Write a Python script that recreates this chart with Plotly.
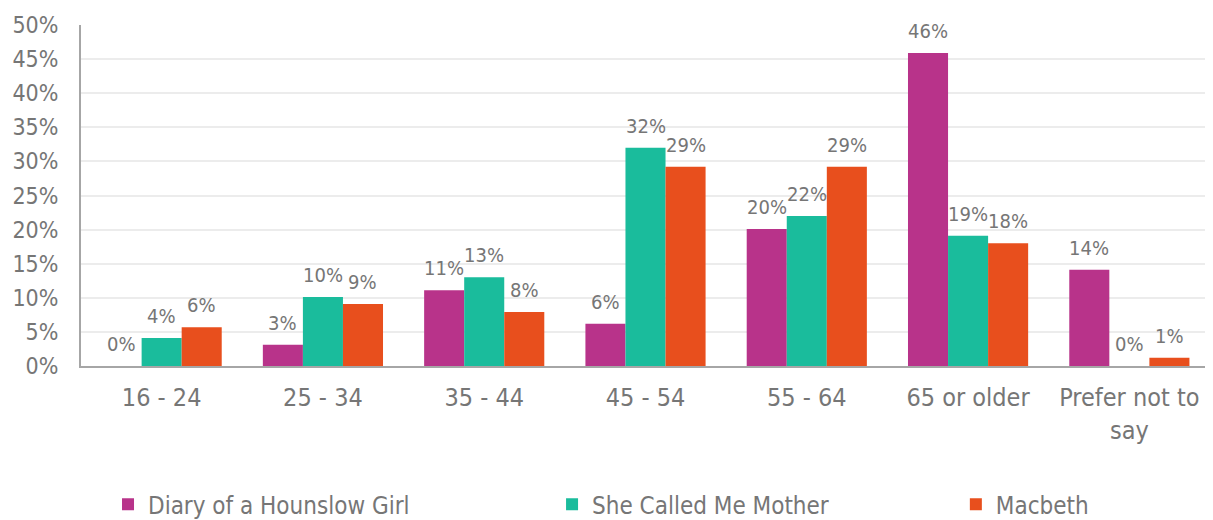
import plotly.graph_objects as go

categories = ["16 - 24", "25 - 34", "35 - 44", "45 - 54", "55 - 64", "65 or older", "Prefer not to<br>say"]
diary = [0.0, 0.031, 0.111, 0.062, 0.201, 0.459, 0.141]
mother = [0.041, 0.101, 0.130, 0.320, 0.220, 0.191, 0.0]
macbeth = [0.057, 0.091, 0.079, 0.292, 0.292, 0.180, 0.012]
series_names = ["Diary of a Hounslow Girl", "She Called Me Mother", "Macbeth"]
colors = ["#B8338A", "#1ABC9C", "#E84F1D"]

GRAY = "#767676"
FONT = "DejaVu Sans Condensed, DejaVu Sans, sans-serif"

W, H = 1205, 512
L, R, T, B = 73, 3, 17, 154
BARGAP = 0.255
cat_px = (W - L - R) / len(categories)
bar_px = cat_px * (1 - BARGAP) / 3

legend_names = ["legend", "legend2", "legend3"]
legend_x = [0.083, 0.4515, 0.7866]

fig = go.Figure()
for i, (name, vals, col) in enumerate(zip(series_names, [diary, mother, macbeth], colors)):
    fig.add_trace(go.Bar(
        x=categories, y=vals, name=name,
        marker=dict(color=col, line=dict(width=0)),
        legend=legend_names[i],
    ))
    for c, v in zip(categories, vals):
        fig.add_annotation(
            x=c, y=v, xref="x", yref="y", text=f"{v:.0%}", showarrow=False,
            xshift=(i - 1) * bar_px, yshift=8, yanchor="bottom",
            font=dict(size=20, color=GRAY, family=FONT),
        )

legend_common = dict(orientation="h", xref="container", yref="container",
                     y=0.03, yanchor="middle", xanchor="left",
                     font=dict(size=24, color=GRAY, family=FONT),
                     itemwidth=30, bgcolor="rgba(0,0,0,0)")
layout_legends = {}
for ln, lx in zip(legend_names, legend_x):
    layout_legends[ln] = dict(legend_common, x=lx)

fig.update_layout(
    width=W, height=H,
    margin=dict(l=L, r=R, t=T, b=B, autoexpand=False),
    paper_bgcolor="white", plot_bgcolor="white",
    barmode="group", bargap=BARGAP, bargroupgap=0,
    font=dict(family=FONT, color=GRAY),
    showlegend=True,
    **layout_legends,
)
fig.update_xaxes(
    showline=True, linecolor="#a6a6a6", linewidth=2, automargin=False,
    tickfont=dict(size=25, color=GRAY, family=FONT), ticks="", ticklabelstandoff=8,
)
fig.update_yaxes(
    range=[0, 0.5], dtick=0.05, tickformat=".0%",
    showgrid=True, gridcolor="#ececec", gridwidth=2, automargin=False,
    showline=True, linecolor="#a6a6a6", linewidth=2,
    tickfont=dict(size=23, color=GRAY, family=FONT), ticks="", ticklabelstandoff=16,
    zeroline=False,
)

fig.write_html("out.html")
